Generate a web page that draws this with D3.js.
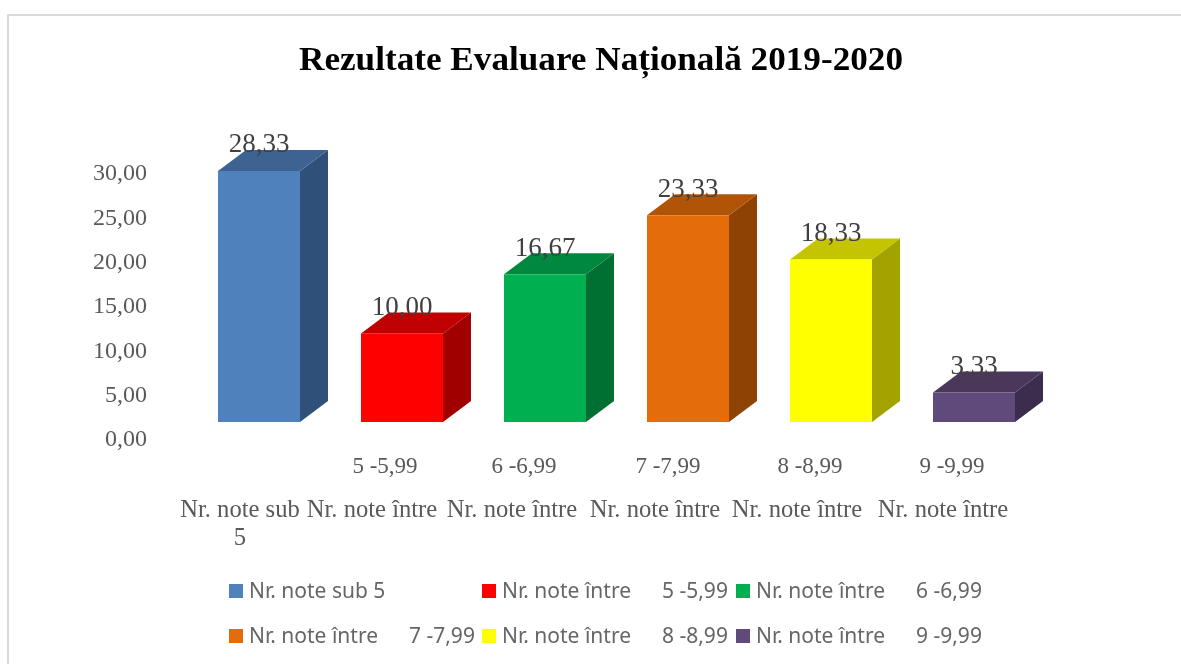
<!DOCTYPE html>
<html><head><meta charset="utf-8">
<script src="https://cdn.jsdelivr.net/npm/d3@7/dist/d3.min.js"></script>
<style>html,body{margin:0;padding:0;background:#fff}svg{display:block;filter:blur(0.45px)}</style>
</head><body><svg id="c" width="1181" height="664"></svg>
<script>
const titleText = "Rezultate Evaluare Național\u0103 2019-2020";
const categories = ["Nr. note sub 5","Nr. note între 5 -5,99","Nr. note între 6 -6,99","Nr. note între 7 -7,99","Nr. note între 8 -8,99","Nr. note între 9 -9,99"];
const values = [28.33,10.00,16.67,23.33,18.33,3.33];
const yTicks = [0,5,10,15,20,25,30];
const axisLineOne = ["","5 -5,99","6 -6,99","7 -7,99","8 -8,99","9 -9,99"];
const axisLineTwo = ["Nr. note sub","Nr. note între","Nr. note între","Nr. note între","Nr. note între","Nr. note între"];
const axisLineThree = ["5","","","","",""];
const legendNames = ["Nr. note sub 5","Nr. note între","Nr. note între","Nr. note între","Nr. note între","Nr. note între"];
const legendRanges = ["","5 -5,99","6 -6,99","7 -7,99","8 -8,99","9 -9,99"];
const frontColors = ["#4f81bd","#ff0000","#00b050","#e46c0a","#ffff00","#604a7b"];
const topColors = ["#3c6391","#c00000","#00883e","#b05408","#c4c400","#4a3759"];
const sideColors = ["#2f5078","#a00000","#006f32","#8e4304","#a3a300","#3c2d4e"];

// layout
const fmt = v => d3.format(".2f")(v).replace(".", ",");
const depthX = 28, depthY = 21, baseY = 422, wallOffset = 16;
const lineOneX = [0,385,524,668,810,952];
const lineTwoX = [240,372,512,655,797,943];
const legendX = [229,482,736], legendY = [591,636];

const svg = d3.select("#c");
svg.append("rect").attr("x",8).attr("y",15).attr("width",1190).attr("height",670)
  .attr("fill","#fff").attr("stroke","#d9d9d9").attr("stroke-width",2);

const x = d3.scaleBand().domain(categories).range([187.5,1045.5]).paddingInner(0.4266).paddingOuter(0.2133);
const y = d3.scaleLinear().domain([0,30]).range([baseY, baseY-265.8]);

svg.append("text").attr("x",601).attr("y",70).attr("text-anchor","middle")
  .attr("font-family","'Liberation Serif',serif").attr("font-weight","bold").attr("font-size",33)
  .attr("textLength",604).attr("lengthAdjust","spacingAndGlyphs")
  .attr("fill","#000").text(titleText);

// value axis labels sit on the back wall of the 3D plot
const axis = d3.axisLeft(y).tickValues(yTicks).tickFormat(fmt).tickSize(0).tickPadding(0);
const axG = svg.append("g").attr("transform",`translate(147,${wallOffset})`).call(axis);
axG.select(".domain").remove();
axG.selectAll("text").attr("font-family","'Liberation Serif',serif").attr("font-size",24).attr("fill","#595959");

const bars = svg.append("g").selectAll("g").data(categories).join("g");
bars.append("path").attr("fill",(d,i)=>sideColors[i]).attr("d",(d,i)=>{
  const r=x(d)+x.bandwidth(), t=y(values[i]);
  return `M${r},${baseY}L${r+depthX},${baseY-depthY}L${r+depthX},${t-depthY}L${r},${t}Z`;});
bars.append("path").attr("fill",(d,i)=>topColors[i]).attr("d",(d,i)=>{
  const l=x(d), r=l+x.bandwidth(), t=y(values[i]);
  return `M${l},${t}L${l+depthX},${t-depthY}L${r+depthX},${t-depthY}L${r},${t}Z`;});
bars.append("rect").attr("fill",(d,i)=>frontColors[i]).attr("x",d=>x(d)).attr("width",x.bandwidth())
  .attr("y",(d,i)=>y(values[i])).attr("height",(d,i)=>baseY-y(values[i]));
bars.append("text").attr("text-anchor","middle").attr("x",d=>x(d)+x.bandwidth()/2)
  .attr("y",(d,i)=>y(values[i])-18.5).attr("font-family","'Liberation Serif',serif").attr("font-size",27)
  .attr("fill","#404040").text((d,i)=>fmt(values[i]));

const axisText = (arr,xs,yy,fs)=>svg.append("g").selectAll("text").data(arr).join("text")
  .attr("x",(d,i)=>xs[i]).attr("y",yy).attr("text-anchor","middle")
  .attr("font-family","'Liberation Serif',serif").attr("font-size",fs).attr("fill","#595959").text(d=>d);
axisText(axisLineOne,lineOneX,473,23);
axisText(axisLineTwo,lineTwoX,517,24.6);
axisText(axisLineThree,lineTwoX,545,24.6);

const lg = svg.append("g").selectAll("g").data(legendNames).join("g")
  .attr("transform",(d,i)=>`translate(${legendX[i%3]},${legendY[Math.floor(i/3)]})`);
lg.append("rect").attr("y",-7).attr("width",14).attr("height",14).attr("fill",(d,i)=>frontColors[i]);
const lf = s => s.attr("font-family","'Noto Sans',sans-serif").attr("font-size",21).attr("fill","#666").attr("y",6.5);
lg.append("text").attr("x",20).text(d=>d).call(lf);
lg.append("text").attr("x",180).text((d,i)=>legendRanges[i]).call(lf);
</script></body></html>
